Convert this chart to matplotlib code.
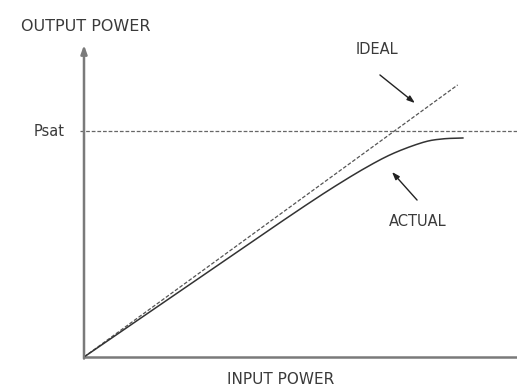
import matplotlib
matplotlib.use("Agg")
import matplotlib.pyplot as plt
import numpy as np

# Normalised input / output power (arbitrary units)
ideal_in = [0.0, 8.65]
ideal_out = [0.0, 8.72]

actual_in = [0.0, 1.0, 2.0, 3.0, 4.0, 5.0, 5.75, 6.5, 7.15, 7.85, 8.3, 8.77]
actual_out = [0.0, 0.95, 1.9, 2.85, 3.8, 4.74, 5.42, 6.05, 6.52, 6.88, 6.99, 7.02]

p_sat = 7.24

axis_labels = {"x": "INPUT POWER", "y": "OUTPUT POWER"}
curve_labels = {"ideal": "IDEAL", "actual": "ACTUAL", "psat": "Psat"}


def catmull_rom(x, y, n=20):
    """Smooth curve passing through every (x, y) point."""
    pts = np.column_stack([x, y]).astype(float)
    pts = np.vstack([2 * pts[0] - pts[1], pts, 2 * pts[-1] - pts[-2]])
    out = []
    t = np.linspace(0, 1, n, endpoint=False)[:, None]
    for i in range(1, len(pts) - 2):
        p0, p1, p2, p3 = pts[i - 1], pts[i], pts[i + 1], pts[i + 2]
        seg = 0.5 * ((2 * p1) + (-p0 + p2) * t
                     + (2 * p0 - 5 * p1 + 4 * p2 - p3) * t ** 2
                     + (-p0 + 3 * p1 - 3 * p2 + p3) * t ** 3)
        out.append(seg)
    out.append(pts[-2][None, :])
    out = np.vstack(out)
    return out[:, 0], out[:, 1]


W, H = 517, 387
fig = plt.figure(figsize=(W / 100, H / 100), dpi=100)
ax = fig.add_axes([84 / W, 30 / H, (W - 84) / W, 312 / H])
xmax = 433 / 43.2
ax.set_xlim(0, xmax)
ax.set_ylim(0, 10)
ax.axis("off")

axis_col = "#7a7a7a"
line_col = "#333333"
font = dict(fontsize=10.5, color="#3a3a3a", family="DejaVu Sans")

# axes, the vertical one ending in an arrow
ax.plot([0, xmax], [0, 0], color=axis_col, lw=1.8, clip_on=False,
        solid_capstyle="butt")
ax.annotate("", xy=(0, 10.0), xytext=(0, -0.05),
            arrowprops=dict(arrowstyle="-|>,head_length=0.5,head_width=0.18",
                            color=axis_col, lw=1.8, shrinkA=0, shrinkB=0),
            annotation_clip=False)

# saturation level
ax.plot([-0.1, xmax], [p_sat, p_sat], color="#666666", lw=0.9,
        ls=(0, (3, 1.5)), clip_on=False)

# ideal linear response
ax.plot(ideal_in, ideal_out, color="#555555", lw=0.9, ls=(0, (3, 1.5)))

# actual response
sx, sy = catmull_rom(actual_in, actual_out)
ax.plot(sx, sy, color=line_col, lw=1.1)

# labels
ax.text(0.05, 10.6, axis_labels["y"], ha="center", va="center", clip_on=False,
        **{**font, "fontsize": 11.5})
ax.text(4.56, -0.72, axis_labels["x"], ha="center", va="center", clip_on=False,
        **{**font, "fontsize": 11})
ax.text(-0.8, p_sat, curve_labels["psat"], ha="center", va="center", clip_on=False, **font)
ax.text(6.78, 9.87, curve_labels["ideal"], ha="center", va="center", **font)
ax.text(7.73, 4.33, curve_labels["actual"], ha="center", va="center", **font)

arrow = dict(arrowstyle="-|>,head_length=0.45,head_width=0.16", color="#222222",
             lw=1.0, shrinkA=0, shrinkB=0)
ax.annotate("", xy=(7.66, 8.14), xytext=(6.85, 9.04), arrowprops=arrow)
ax.annotate("", xy=(7.13, 5.93), xytext=(7.71, 5.03), arrowprops=arrow)

fig.savefig("out.png", dpi=100, facecolor="white")
